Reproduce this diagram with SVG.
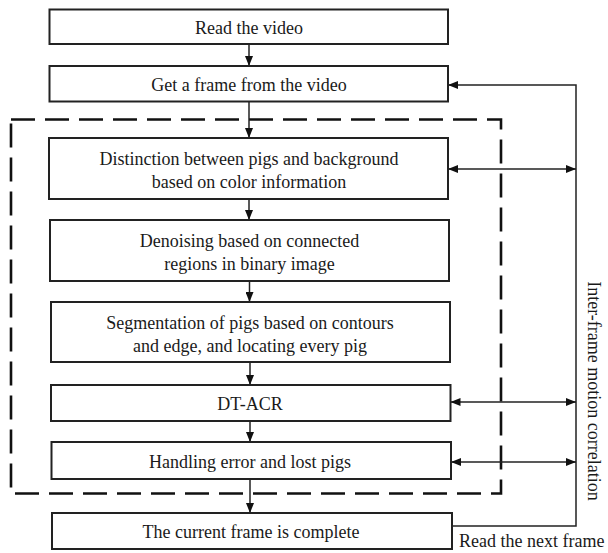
<svg xmlns="http://www.w3.org/2000/svg" width="608" height="553" viewBox="0 0 608 553">
<style>
.box{fill:#fff;stroke:#222;stroke-width:2}
.t{font-family:"Liberation Serif","Times New Roman",serif;font-size:18px;fill:#1a1a1a;text-anchor:middle}
.c{fill:none;stroke:#222;stroke-width:1.5}
.dash{fill:none;stroke:#111;stroke-width:2.6;stroke-dasharray:24 10}
</style>
<defs>
<marker id="ah" markerUnits="userSpaceOnUse" markerWidth="11" markerHeight="8" refX="10" refY="4" orient="auto-start-reverse">
<path d="M0,0 L10,4 L0,8 z" fill="#111"/>
</marker>
</defs>
<rect width="608" height="553" fill="#fff"/>
<g id="region">
<rect class="dash" x="11" y="119.5" width="490" height="374"/>
</g>
<g id="connectors">
<path class="c" d="M249,44 V66" marker-end="url(#ah)"/>
<path class="c" d="M249,102 V138" marker-end="url(#ah)"/>
<path class="c" d="M249,199 V220" marker-end="url(#ah)"/>
<path class="c" d="M249.5,281 V302" marker-end="url(#ah)"/>
<path class="c" d="M250,362 V385" marker-end="url(#ah)"/>
<path class="c" d="M250,421 V442" marker-end="url(#ah)"/>
<path class="c" d="M250,479 V513" marker-end="url(#ah)"/>
<path class="c" d="M452,526 H576 V85 H448" marker-end="url(#ah)"/>
<path class="c" d="M448,169 H576" marker-start="url(#ah)" marker-end="url(#ah)"/>
<path class="c" d="M450.5,402 H576" marker-start="url(#ah)" marker-end="url(#ah)"/>
<path class="c" d="M451,462 H576" marker-start="url(#ah)" marker-end="url(#ah)"/>
</g>
<g id="n1"><rect class="box" x="49.5" y="9.5" width="398.5" height="34.5"/><text class="t" x="249" y="34">Read the video</text></g>
<g id="n2"><rect class="box" x="49.5" y="66" width="398.5" height="35.5"/><text class="t" x="249" y="91">Get a frame from the video</text></g>
<g id="n3"><rect class="box" x="49" y="138" width="399" height="61"/><text class="t" x="249" y="165">Distinction between pigs and background</text><text class="t" x="249" y="188">based on color information</text></g>
<g id="n4"><rect class="box" x="50" y="220" width="399" height="61"/><text class="t" x="249.5" y="247">Denoising based on connected</text><text class="t" x="249.5" y="270">regions in binary image</text></g>
<g id="n5"><rect class="box" x="51" y="302" width="399" height="60"/><text class="t" x="250" y="329">Segmentation of pigs based on contours</text><text class="t" x="250" y="352">and edge, and locating every pig</text></g>
<g id="n6"><rect class="box" x="51" y="385" width="399.5" height="36"/><text class="t" x="250" y="410">DT-ACR</text></g>
<g id="n7"><rect class="box" x="51.5" y="442" width="399.5" height="37"/><text class="t" x="250" y="468">Handling error and lost pigs</text></g>
<g id="n8"><rect class="box" x="52" y="513" width="400" height="36"/><text class="t" x="251" y="538">The current frame is complete</text></g>
<g id="labels">
<text class="t" transform="translate(588,391) rotate(90)">Inter-frame motion correlation</text>
<text class="t" x="459" y="547" style="text-anchor:start">Read the next frame</text>
</g>
</svg>
